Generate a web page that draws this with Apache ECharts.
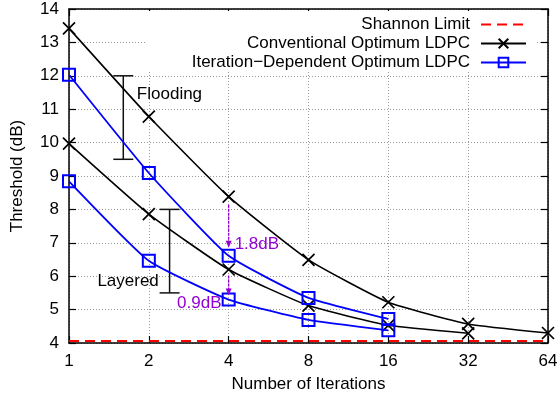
<!DOCTYPE html>
<html>
<head>
<meta charset="utf-8">
<script src="https://cdn.jsdelivr.net/npm/echarts@6/dist/echarts.min.js"></script>
<style>html,body{margin:0;padding:0;background:#fff}#c{width:559px;height:400px}</style>
</head>
<body>
<div id="c"></div>
<script>
// ---- data ----
var iterations = ['1', '2', '4', '8', '16', '32', '64'];
var shannonLimit = [4.06, 4.06, 4.06, 4.06, 4.06, 4.06, 4.06];
var convFlooding = [13.42, 10.78, 8.38, 6.49, 5.22, 4.57, 4.30];
var convLayered = [9.97, 7.86, 6.20, 5.12, 4.53, 4.29, null];
var iterFlooding = [12.03, 9.09, 6.61, 5.35, 4.72, null, null];
var iterLayered = [8.84, 6.46, 5.30, 4.69, 4.38, null, null];
var yTicks = [4, 5, 6, 7, 8, 9, 10, 11, 12, 13, 14];
// error bars: [x position (index units), low, high]
var rangeBars = [[0.68, 9.5, 12.0], [1.26, 5.5, 8.0]];
// gain arrows: [x index, from, to]
var gainArrows = [[2, 8.14, 6.85], [2, 6.02, 5.42]];
// text notes: [x, y, text, align, color]
var notes = [
  [0.85, 11.45, 'Flooding', 'left', '#000'],
  [1.125, 5.84, 'Layered', 'right', '#000'],
  [2.075, 6.94, '1.8dB', 'left', '#9400d3'],
  [1.91, 5.2, '0.9dB', 'right', '#9400d3']
];

function pairs(arr) {
  var out = [];
  arr.forEach(function (v, i) { if (v !== null) out.push([i, v]); });
  return out;
}

var FONT = 'Liberation Sans';
var X_SYM = 'path://M0,0L10,10M10,0L0,10';

var chart = echarts.init(document.getElementById('c'), null, {renderer: 'canvas'});

function axisCommon() {
  return {
    axisLine: {show: true, onZero: false, lineStyle: {color: '#000', width: 1.5}},
    axisTick: {show: true, inside: true, length: 7, lineStyle: {color: '#000', width: 1.2}}
  };
}

function legendItem(name, top, extra) {
  var l = {
    data: [name], right: 32, top: top, orient: 'horizontal', align: 'right',
    itemWidth: 45, itemHeight: 12, padding: 0, z: 4,
    textStyle: {fontFamily: FONT, fontSize: 17, color: '#000', lineHeight: 19, padding: [0, 6, 0, 0]},
    selectedMode: false
  };
  return Object.assign(l, extra || {});
}

var option = {
  animation: false,
  backgroundColor: '#fff',
  grid: {left: 69, right: 11, top: 9, bottom: 57, outerBoundsMode: 'none'},
  legend: [
    legendItem('Iteration\u2212Dependent Optimum LDPC', 11, {z: 3, right: 22, padding: [42, 10, 0, 46], backgroundColor: '#fff'}),
    legendItem('Shannon Limit', 15, {itemStyle: {opacity: 0}}),
    legendItem('Conventional Optimum LDPC', 34)
  ],
  xAxis: [
    Object.assign({
      type: 'value', min: 0, max: 6, interval: 1, position: 'bottom',
      name: 'Number of Iterations', nameLocation: 'middle', nameGap: 33,
      nameTextStyle: {fontFamily: FONT, fontSize: 17, color: '#000'},
      axisLabel: {fontFamily: FONT, fontSize: 17, color: '#000', margin: 10,
        formatter: function (v) { return iterations[v]; }},
      splitLine: {show: true, lineStyle: {color: '#999', width: 1, type: [1, 2]}}
    }, axisCommon()),
    Object.assign({
      type: 'value', min: 0, max: 6, interval: 1, position: 'top',
      axisLabel: {show: false}, splitLine: {show: false}
    }, axisCommon())
  ],
  yAxis: [
    Object.assign({
      type: 'value', min: yTicks[0], max: yTicks[yTicks.length - 1], interval: 1, position: 'left',
      name: 'Threshold (dB)', nameLocation: 'middle', nameGap: 43,
      nameTextStyle: {fontFamily: FONT, fontSize: 17, color: '#000'},
      axisLabel: {fontFamily: FONT, fontSize: 17, color: '#000', margin: 10},
      splitLine: {show: true, lineStyle: {color: '#999', width: 1, type: [1, 2]}}
    }, axisCommon()),
    Object.assign({
      type: 'value', min: yTicks[0], max: yTicks[yTicks.length - 1], interval: 1, position: 'right',
      axisLabel: {show: false}, splitLine: {show: false}
    }, axisCommon())
  ],
  series: [
    {
      name: 'Shannon Limit', type: 'line', data: pairs(shannonLimit), symbol: 'none', z: 3,
      xAxisIndex: 1, yAxisIndex: 1,
      itemStyle: {color: '#f00'},
      lineStyle: {color: '#f00', width: 2, type: [10, 6]}
    },
    {
      name: 'Conventional Optimum LDPC', type: 'line', data: pairs(convFlooding), smooth: 0.15,
      symbol: X_SYM, symbolSize: 12, z: 4,
      itemStyle: {color: '#000', borderColor: '#000', borderWidth: 1.7},
      lineStyle: {color: '#000', width: 1.6}
    },
    {
      name: 'Conventional Optimum LDPC', type: 'line', data: pairs(convLayered), smooth: 0.15,
      symbol: X_SYM, symbolSize: 12, z: 4,
      itemStyle: {color: '#000', borderColor: '#000', borderWidth: 1.7},
      lineStyle: {color: '#000', width: 1.6}
    },
    {
      name: 'Iteration\u2212Dependent Optimum LDPC', type: 'line', data: pairs(iterFlooding), smooth: 0.15,
      symbol: 'rect', symbolSize: 12, z: 5,
      itemStyle: {color: 'rgba(255,255,255,0)', borderColor: '#0000ff', borderWidth: 2},
      lineStyle: {color: '#0000ff', width: 1.8}
    },
    {
      name: 'Iteration\u2212Dependent Optimum LDPC', type: 'line', data: pairs(iterLayered), smooth: 0.15,
      symbol: 'rect', symbolSize: 12, z: 5,
      itemStyle: {color: 'rgba(255,255,255,0)', borderColor: '#0000ff', borderWidth: 2},
      lineStyle: {color: '#0000ff', width: 1.8}
    },
    {
      type: 'custom', name: 'bars', z: 3, data: rangeBars,
      renderItem: function (params, api) {
        var top = api.coord([api.value(0), api.value(2)]);
        var bot = api.coord([api.value(0), api.value(1)]);
        var st = {stroke: '#111', lineWidth: 1.5};
        return {type: 'group', children: [
          {type: 'line', shape: {x1: top[0], y1: top[1], x2: bot[0], y2: bot[1]}, style: st},
          {type: 'line', shape: {x1: top[0] - 10, y1: top[1], x2: top[0] + 10, y2: top[1]}, style: st},
          {type: 'line', shape: {x1: bot[0] - 10, y1: bot[1], x2: bot[0] + 10, y2: bot[1]}, style: st}
        ]};
      }
    },
    {
      type: 'custom', name: 'arrows', z: 6, data: gainArrows,
      renderItem: function (params, api) {
        var a = api.coord([api.value(0), api.value(1)]);
        var b = api.coord([api.value(0), api.value(2)]);
        var c = '#9400d3';
        return {type: 'group', children: [
          {type: 'line', shape: {x1: a[0], y1: a[1], x2: b[0], y2: b[1] - 6}, style: {stroke: c, lineWidth: 1.3, lineDash: [3, 1]}},
          {type: 'polygon', shape: {points: [[b[0] - 3, b[1] - 7], [b[0] + 3, b[1] - 7], [b[0], b[1]]]}, style: {fill: c}}
        ]};
      }
    },
    {
      type: 'custom', name: 'notes', z: 6, data: notes,
      renderItem: function (params, api) {
        var n = notes[params.dataIndex];
        var p = api.coord([n[0], n[1]]);
        return {type: 'text', x: p[0], y: p[1], style: {
          text: n[2], fill: n[4], font: '17px "Liberation Sans"', align: n[3], verticalAlign: 'middle'
        }};
      }
    }
  ]
};
chart.setOption(option);
</script>
</body>
</html>
